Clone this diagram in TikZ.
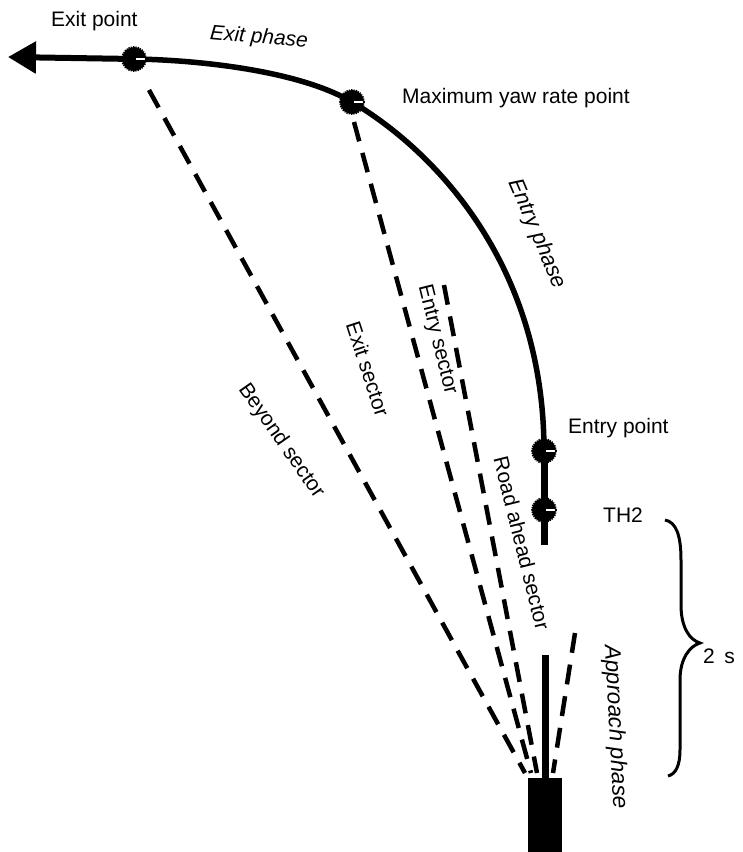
\documentclass[tikz,border=0pt]{standalone}
\usepackage{fontspec}
\setmainfont{Liberation Sans}
\usetikzlibrary{arrows.meta}
\begin{document}
\begin{tikzpicture}[x=1pt,y=-1pt,
  lbl/.style={font=\fontsize{21}{25}\selectfont, inner sep=0pt},
  ilbl/.style={font=\fontsize{21}{25}\selectfont\itshape, inner sep=0pt},
  road/.style={line width=5.5pt},
  roadstraight/.style={line width=7pt},
  sector/.style={line width=4.5pt, dash pattern=on 20pt off 12pt},
  waypoint/.style={circle, fill=black, draw=black, minimum size=24pt, inner sep=0pt,
     line width=1.8pt, dash pattern=on 1.2pt off 1.1pt,
     path picture={\fill[white] ([xshift=2pt,yshift=-1.4pt]path picture bounding box.center)
        rectangle ([xshift=12pt,yshift=1.4pt]path picture bounding box.center);}},
  brace/.style={line width=3pt}
]
\useasboundingbox (0,0) rectangle (743,852);

% key points
\coordinate (exitc) at (134,59);
\coordinate (maxc) at (352,102);
\coordinate (entryc) at (544,451);
\coordinate (thc) at (544,510);
\coordinate (tip) at (8,57);
\coordinate (roadend) at (544,545);
\coordinate (carline) at (545,655);

% road
\draw[road] (entryc) .. controls (544,260) and (430,148) .. (maxc)
   .. controls (300,71) and (200,60) .. (exitc);
\draw[line width=6pt, -{Triangle[length=28pt,width=31pt]}] (exitc) -- (tip);
\draw[roadstraight] (entryc) -- (thc) -- (roadend);

% car
\node[fill=black, minimum width=34pt, minimum height=74pt, inner sep=0pt, anchor=north] (car) at (545,778) {};
\draw[roadstraight] (car.north) -- (carline);

% sector lines
\coordinate (s1a) at (149,90);  \coordinate (s1b) at (525,773);
\coordinate (s2a) at (354,122); \coordinate (s2b) at (531,773);
\coordinate (s3a) at (444,285); \coordinate (s3b) at (537,773);
\coordinate (s4a) at (575,633); \coordinate (s4b) at (553,773);
\draw[sector] (s1a) -- (s1b);
\draw[sector] (s2a) -- (s2b);
\draw[sector] (s3a) -- (s3b);
\draw[sector] (s4a) -- (s4b);

% way points
\node[waypoint] (exitpt) at (exitc) {};
\node[waypoint] (maxpt) at (maxc) {};
\node[waypoint] (entrypt) at (entryc) {};
\node[waypoint] (thpt) at (thc) {};

% brace
\coordinate (bt) at (665,520);
\coordinate (bm) at (700,643);
\coordinate (bb) at (668,776);
\draw[brace] (bt) .. controls (676,522) and (681,535) .. (681,560) -- (681,605)
  .. controls (681,628) and (690,640) .. (bm)
  .. controls (690,646) and (680,658) .. (680,680) -- (680,750)
  .. controls (680,765) and (676,774) .. (bb);

% labels
\node[lbl, anchor=base west] (lexitpt) at (51,26) {Exit point};
\node[ilbl, rotate=-5] (lexitph) at (259,38) {Exit phase};
\node[lbl, anchor=base west] (lmax) at (402,103) {Maximum yaw rate point};
\node[ilbl, rotate=-67, font=\fontsize{22}{26}\selectfont\itshape] (lentryph) at (537,234) {Entry phase};
\node[lbl, anchor=base west] (lentrypt) at (568,433) {Entry point};
\node[lbl, anchor=base west] (lth) at (603,522) {TH2};
\node[lbl, anchor=base west] (ltwo) at (703,663) {2\hspace{0.45em}s};
\node[ilbl, rotate=-87, font=\fontsize{22.5}{26}\selectfont\itshape] (lappr) at (615,727) {Approach phase};
\node[lbl, rotate=-76] (lroad) at (522,543) {Road ahead sector};
\node[lbl, rotate=-76] (lentrys) at (437,340) {Entry sector};
\node[lbl, rotate=-72] (lexits) at (368,369) {Exit sector};
\node[lbl, rotate=-55] (lbeyond) at (281,441) {Beyond sector};
\end{tikzpicture}
\end{document}
